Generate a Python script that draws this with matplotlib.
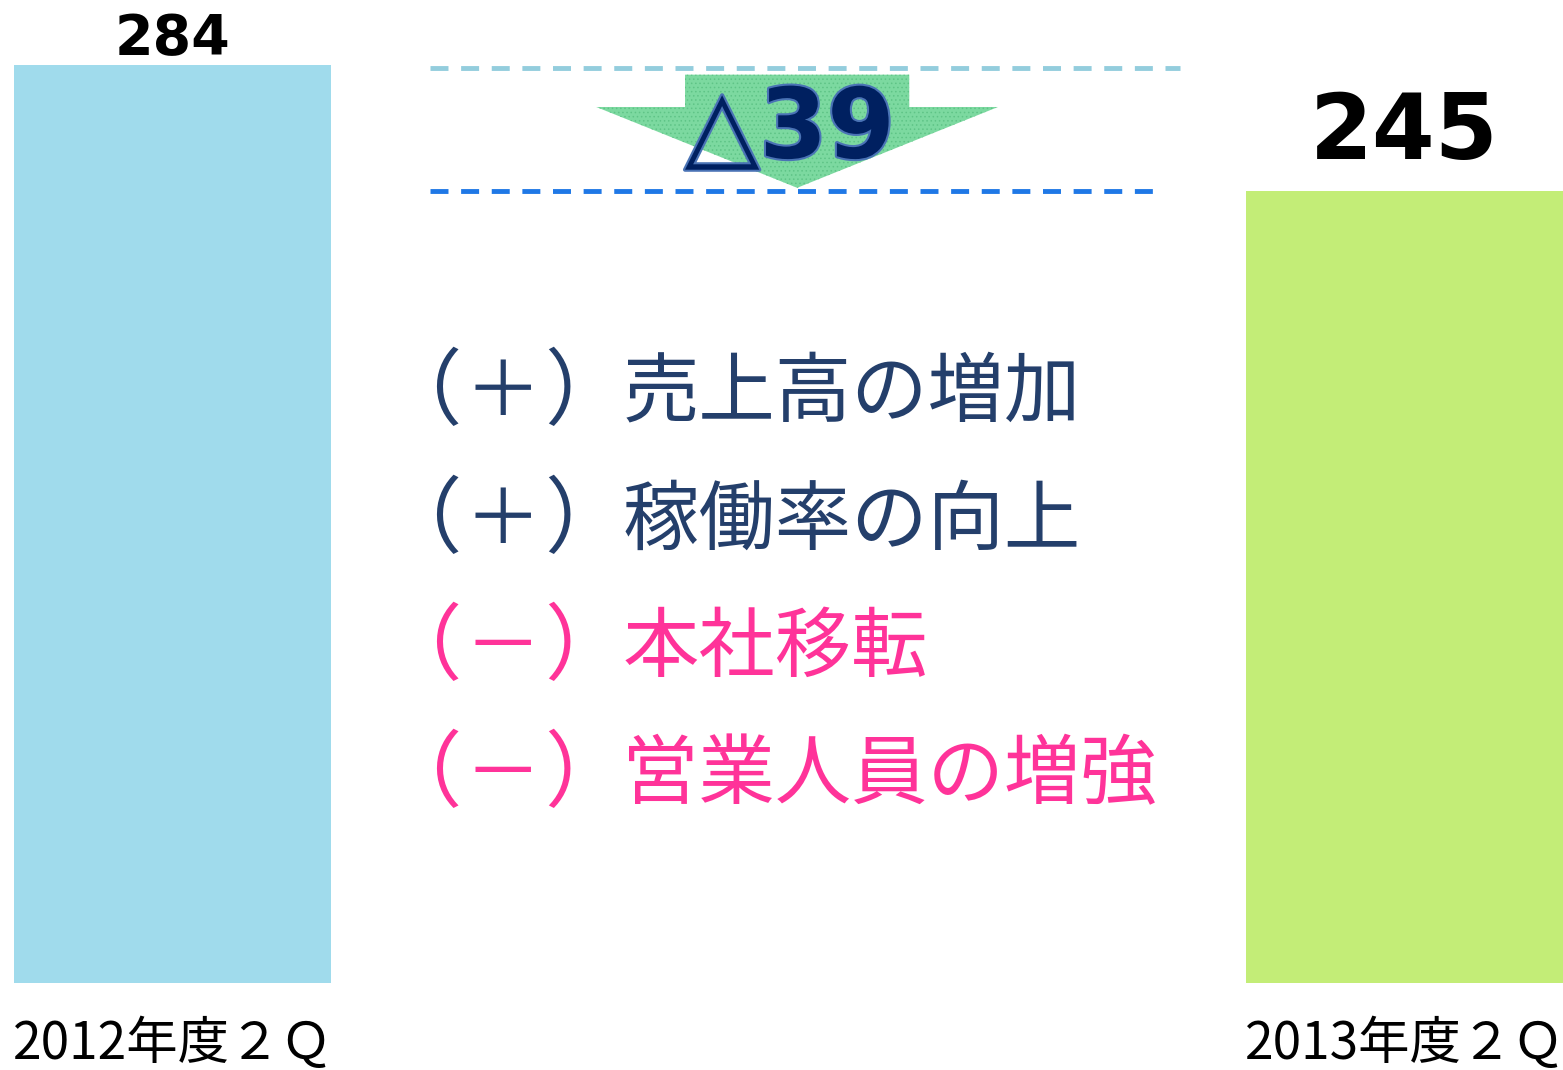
import matplotlib
matplotlib.use("Agg")
import matplotlib.pyplot as plt
import matplotlib.patheffects as pe
from matplotlib.patches import Polygon

# data
periods = ["2012年度２Ｑ", "2013年度２Ｑ"]
values = [284, 245]
bar_colors = ["#A0DBEC", "#C3ED77"]
change_label = "△39"
factor_signs = ["＋", "＋", "－", "－"]
factor_texts = ["売上高の増加", "稼働率の向上", "本社移転", "営業人員の増強"]
factor_colors = ["#243F6B", "#243F6B", "#FF3399", "#FF3399"]

plt.rcParams['font.family'] = ['Noto Sans CJK JP', 'DejaVu Sans']
plt.rcParams['hatch.color'] = '#5FC487'
plt.rcParams['hatch.linewidth'] = 0.6

fig = plt.figure(figsize=(15.63, 10.70), dpi=100)
ax = fig.add_axes([0, 87 / 1070, 1, 983 / 1070])
ax.set_xlim(-0.14, 1.1286)
ax.set_ylim(0, 304.1)
ax.axis('off')

x = list(range(len(values)))
ax.bar(x, values, width=0.258, color=bar_colors)

# value labels
ax.text(x[0], values[0] + 8, str(values[0]), ha='center', va='center',
        fontsize=40, fontweight='bold', family='DejaVu Sans', color='black')
ax.text(x[1], values[1] + 17.5, str(values[1]), ha='center', va='center',
        fontsize=65, fontweight='bold', family='DejaVu Sans', color='black')

# period labels under the bars
for xi, lab in zip(x, periods):
    ax.text(xi, -19, lab, ha='center', va='center', fontsize=37,
            color='black', clip_on=False)

# dashed reference lines at both levels
ax.hlines(values[0] - 1, 0.209, 0.818, colors='#93CDDD', linestyles=(0, (3.7, 2.6)), lw=3.5)
ax.hlines(values[1], 0.209, 0.801, colors='#1F78E6', linestyles=(0, (3.7, 2.6)), lw=3.5)

# down arrow between the two levels
cx = 0.507
top, base, tip = values[0] - 3, values[0] - 13, values[1] + 1
arrow = Polygon([(cx - 0.091, top), (cx + 0.091, top), (cx + 0.091, base),
                 (cx + 0.163, base), (cx, tip), (cx - 0.163, base),
                 (cx - 0.091, base)], closed=True,
                facecolor='#7CD9A0', edgecolor='#5FC487', lw=0, hatch='....')
ax.add_patch(arrow)

ax.text(cx - 0.006, (top + tip) / 2, change_label, ha='center', va='center',
        fontsize=70, fontweight='bold', family=['DejaVu Sans', 'Noto Sans CJK JP'],
        color='#002060',
        path_effects=[pe.withStroke(linewidth=3, foreground='#4A73B5')])

# factor list
ys = [182.2, 142.6, 103.3, 64.0]
for y, s, t, c in zip(ys, factor_signs, factor_texts, factor_colors):
    ax.text(0.167, y, "（", ha='left', va='center', fontsize=60, color=c)
    ax.text(0.268, y, s, ha='center', va='center', fontsize=55, color=c)
    ax.text(0.302, y, "）", ha='left', va='center', fontsize=60, color=c)
    ax.text(0.365, y, t, ha='left', va='center', fontsize=55, color=c)

fig.savefig("out.png", dpi=100)
